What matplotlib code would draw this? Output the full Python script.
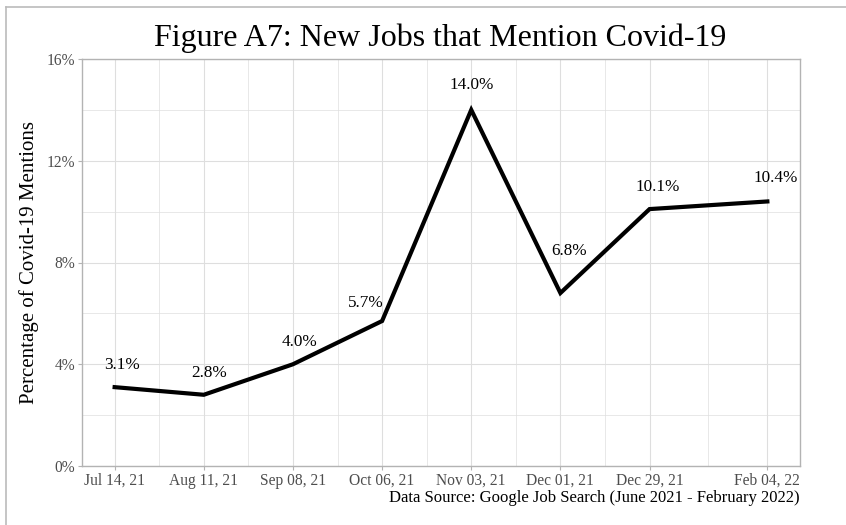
import datetime as dt
import matplotlib
matplotlib.use("Agg")
import matplotlib.pyplot as plt
import matplotlib.dates as mdates
from matplotlib.lines import Line2D
from matplotlib.ticker import FixedLocator, FuncFormatter

# data
dates = [dt.date(2021, 7, 14), dt.date(2021, 8, 11), dt.date(2021, 9, 8), dt.date(2021, 10, 6),
         dt.date(2021, 11, 3), dt.date(2021, 12, 1), dt.date(2021, 12, 29), dt.date(2022, 2, 4)]
pct = [3.1, 2.8, 4.0, 5.7, 14.0, 6.8, 10.1, 10.4]
tick_labels = ["Jul 14, 21", "Aug 11, 21", "Sep 08, 21", "Oct 06, 21",
               "Nov 03, 21", "Dec 01, 21", "Dec 29, 21", "Feb 04, 22"]
y_ticks = [0, 4, 8, 12, 16]
y_minor = [2, 6, 10, 14]

# label nudges (points), roughly where ggrepel put them
label_offsets = [(5, 16), (4, 16), (5, 16), (-12, 13), (0, 18), (6, 30), (6, 16), (6, 17)]

plt.rcParams["font.family"] = ["Liberation Serif", "DejaVu Serif"]

GRID = "#DEDEDE"
BORDER = "#B3B3B3"
TXT = "#4D4D4D"

fig = plt.figure(figsize=(8.46, 5.25), dpi=100)
ax = fig.add_axes([82 / 846, 1 - 466 / 525, (800 - 82) / 846, (466 - 59) / 525])

xnum = mdates.date2num(dates)
ax.plot(xnum, pct, color="black", linewidth=3, solid_joinstyle="miter", zorder=3)

for x, y, (dx, dy) in zip(xnum, pct, label_offsets):
    ax.annotate(f"{y:.1f}%", (x, y), xytext=(dx, dy), textcoords="offset points",
                ha="center", va="center", fontsize=12.3, color="black", zorder=4)

span = xnum[-1] - xnum[0]
ax.set_xlim(xnum[0] - 0.05 * span, xnum[-1] + 0.05 * span)
ax.set_ylim(0, 16)

ax.xaxis.set_major_locator(FixedLocator(xnum))
ax.set_xticklabels(tick_labels)
x_minor = [(a + b) / 2 for a, b in zip(xnum[:-1], xnum[1:])]
ax.xaxis.set_minor_locator(FixedLocator(x_minor))
ax.set_yticks(y_ticks)
ax.yaxis.set_minor_locator(FixedLocator(y_minor))
ax.yaxis.set_major_formatter(FuncFormatter(lambda v, p: f"{v:.0f}%"))

ax.grid(which="major", color=GRID, linewidth=0.8)
ax.grid(which="minor", color=GRID, linewidth=0.5)
ax.set_axisbelow(True)

ax.tick_params(which="major", length=3, width=0.8, color=BORDER, labelcolor=TXT,
               labelsize=11.2, pad=2)
ax.tick_params(which="minor", length=0)
for s in ax.spines.values():
    s.set_color(BORDER)
    s.set_linewidth(1.0)

fig.text(440 / 846, 1 - 38 / 525, "Figure A7: New Jobs that Mention Covid-19",
         ha="center", va="center", fontsize=23, color="black")
fig.text(29 / 846, 1 - 262 / 525, "Percentage of Covid-19 Mentions", rotation=90,
         ha="center", va="center", fontsize=15, color="black")
fig.text(800 / 846, 1 - 498 / 525, "Data Source: Google Job Search (June 2021 - February 2022)",
         ha="right", va="center", fontsize=12, color="black")

# outer frame of the cropped original (only left and top survive)
fig.add_artist(Line2D([5.5 / 846, 5.5 / 846], [0, 1 - 6.5 / 525], color="#BBBBBB", linewidth=1.2))
fig.add_artist(Line2D([5.5 / 846, 1], [1 - 6.5 / 525, 1 - 6.5 / 525], color="#BBBBBB", linewidth=1.2))

fig.savefig("out.png", dpi=100)
